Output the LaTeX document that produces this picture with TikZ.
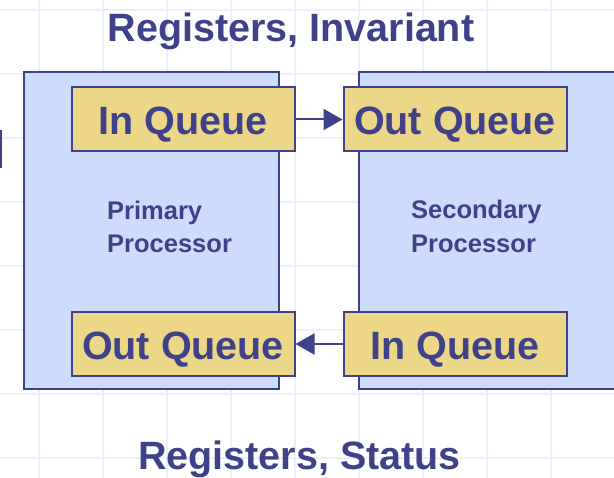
\documentclass[tikz,border=0pt]{standalone}
\usepackage{fontspec}
\setmainfont{Liberation Sans}
\usetikzlibrary{arrows.meta}
\definecolor{ink}{HTML}{3F4189}
\definecolor{procfill}{HTML}{CEDBFC}
\definecolor{qfill}{HTML}{ECD687}
\definecolor{gridc}{HTML}{ECEFFC}
\newcommand{\bigfont}{\fontsize{39.5}{48}\selectfont\bfseries}
\newcommand{\smallfontx}{\fontsize{25.5}{30}\selectfont\bfseries}
\begin{document}
\begin{tikzpicture}[x=1pt,y=-1pt,
  proc/.style={draw=ink,line width=2pt,fill=procfill,inner sep=0pt,minimum width=255pt,minimum height=317pt},
  queue/.style={draw=ink,line width=2pt,fill=qfill,inner sep=0pt,minimum width=223pt,minimum height=64pt,text=ink,font=\bigfont,text height=31pt,text depth=0pt},
  title/.style={text=ink,font=\bigfont,inner sep=0pt,anchor=base},
  plabel/.style={text=ink,font=\smallfontx,inner sep=0pt,anchor=base west},
  link/.style={draw=ink,line width=2pt,-{Triangle[length=19pt,width=21pt]}},
  gridline/.style={draw=gridc,line width=2pt}]
\useasboundingbox (0,0) rectangle (614,478);
\clip (0,0) rectangle (614,478);
\fill[white] (0,0) rectangle (614,478);
% grid
\foreach \gx in {39,103,...,615} \draw[gridline] (\gx,0) -- (\gx,478);
\foreach \gy in {10,74,...,458} \draw[gridline] (0,\gy) -- (614,\gy);
% left edge mark
\fill[ink] (0,130) rectangle (2,168);
% processors
\node[proc] (primary) at (151,231) {};
\node[proc,minimum width=280pt] (secondary) at (499,231) {};
% queues
\node[queue] (pin) at (183,119.5) {In Queue};
\node[queue] (sout) at (455,119.5) {Out Queue};
\node[queue] (pout) at (183,344) {Out Queue};
\node[queue] (sin) at (455,344) {In Queue};
% arrows
\draw[link] (pin.east) -- (sout.west);
\draw[link] (sin.west) -- (pout.east);
% labels
\node[plabel] (p1) at (107,220) {Primary};
\node[plabel] (p2) at (107,252.5) {Processor};
\node[plabel] (s1) at (411,219) {Secondary};
\node[plabel] (s2) at (411,253) {Processor};
\node[title] (t1) at (291,42) {Registers, Invariant};
\node[title] (t2) at (299.5,470) {Registers, Status};
\end{tikzpicture}
\end{document}
